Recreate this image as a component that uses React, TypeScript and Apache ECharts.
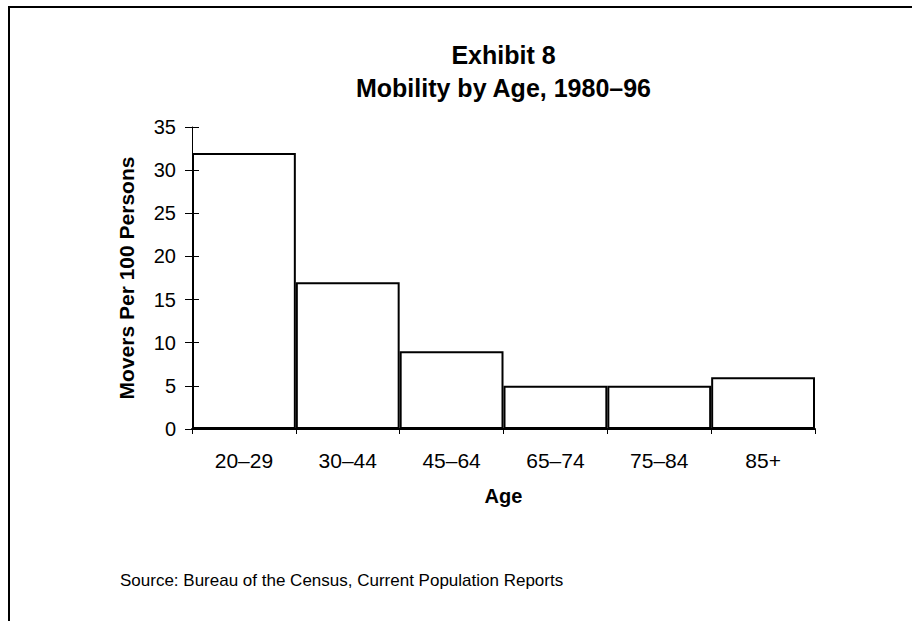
import React, { useEffect, useRef } from "react";
import * as echarts from "echarts";

const categories = ["20–29", "30–44", "45–64", "65–74", "75–84", "85+"];
const moversPer100 = [32, 17, 9, 5, 5, 6];
const yTicks = { min: 0, max: 35, interval: 5 };
const titleLines = ["Exhibit 8", "Mobility by Age, 1980–96"];
const yAxisName = "Movers Per 100 Persons";
const xAxisName = "Age";
const sourceNote = "Source: Bureau of the Census, Current Population Reports";

const FONT = "'Liberation Sans', Arial, sans-serif";

export default function App() {
  const ref = useRef<HTMLDivElement>(null);
  useEffect(() => {
    if (!ref.current) return;
    const chart = echarts.init(ref.current, undefined, { renderer: "svg" });
    const left = 192;
    const right = 97;
    const top = 127;
    const bottom = 192;
    const plotCenter = left + (912 - left - right) / 2;
    chart.setOption({
      animation: false,
      backgroundColor: "#fff",
      textStyle: { fontFamily: FONT },
      grid: { left, right, top, bottom, containLabel: false },
      graphic: [
        {
          type: "rect",
          shape: { x: 9, y: 7, width: 1200, height: 1200 },
          style: { fill: "none", stroke: "#000", lineWidth: 2 },
          silent: true,
        },
        {
          type: "text",
          x: plotCenter,
          y: 55,
          style: {
            text: titleLines[0],
            font: `bold 25px ${FONT}`,
            fill: "#000",
            align: "center",
            verticalAlign: "middle",
          },
        },
        {
          type: "text",
          x: plotCenter,
          y: 88,
          style: {
            text: titleLines[1],
            font: `bold 25px ${FONT}`,
            fill: "#000",
            align: "center",
            verticalAlign: "middle",
          },
        },
        {
          type: "text",
          x: 120,
          y: 580,
          style: {
            text: sourceNote,
            font: `17px ${FONT}`,
            fill: "#000",
            align: "left",
            verticalAlign: "middle",
          },
        },
      ],
      xAxis: {
        type: "category",
        data: categories,
        boundaryGap: true,
        name: xAxisName,
        nameLocation: "middle",
        nameGap: 57,
        nameTextStyle: { fontSize: 20, fontWeight: "bold", color: "#000", fontFamily: FONT },
        axisLine: { lineStyle: { color: "#000", width: 2 } },
        axisTick: { show: true, length: 5, lineStyle: { color: "#000", width: 1 } },
        axisLabel: { fontSize: 21, color: "#000", margin: 21, fontFamily: FONT },
        splitLine: { show: false },
      },
      yAxis: [
        {
          type: "value",
          min: yTicks.min,
          max: yTicks.max,
          interval: yTicks.interval,
          name: yAxisName,
          nameLocation: "middle",
          nameRotate: 90,
          nameGap: 55,
          nameTextStyle: { fontSize: 21, fontWeight: "bold", color: "#000", fontFamily: FONT },
          axisLine: { show: true, lineStyle: { color: "#000", width: 1 } },
          axisTick: { show: true, length: 7, lineStyle: { color: "#000", width: 1 } },
          axisLabel: { fontSize: 20, color: "#000", margin: 16, fontFamily: FONT },
          splitLine: { show: false },
        },
        {
          type: "value",
          position: "left",
          min: yTicks.min,
          max: yTicks.max,
          interval: yTicks.interval,
          z: 5,
          axisLine: { show: false },
          axisTick: { show: true, inside: true, length: 7, lineStyle: { color: "#000", width: 1 } },
          axisLabel: { show: false },
          splitLine: { show: false },
        },
      ],
      series: [
        {
          type: "bar",
          data: moversPer100,
          yAxisIndex: 0,
          barCategoryGap: "0%",
          itemStyle: { color: "#fff", borderColor: "#000", borderWidth: 2 },
          emphasis: { disabled: true },
        },
      ],
    });
    return () => chart.dispose();
  }, []);
  return (
    <div
      ref={ref}
      style={{ position: "fixed", left: 0, top: 0, width: 912, height: 621, background: "#fff" }}
    />
  );
}
